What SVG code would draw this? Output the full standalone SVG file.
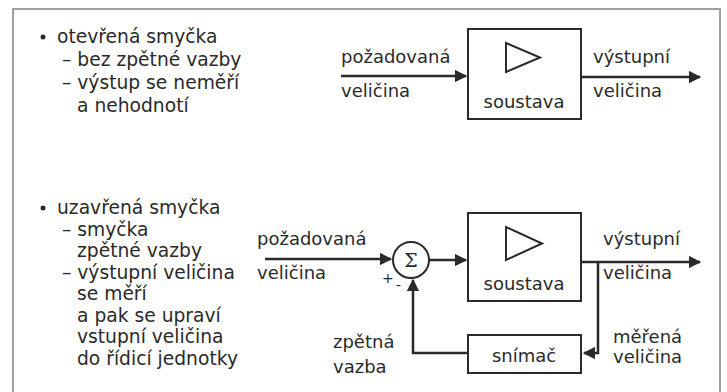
<svg xmlns="http://www.w3.org/2000/svg" width="727" height="392" viewBox="0 0 727 392">
<defs>
<style>
text{font-family:"DejaVu Sans","Liberation Sans",sans-serif;font-size:18px;fill:#2a2a2a}
.lt text{font-size:18.7px}
.mid{text-anchor:middle}
.box{fill:none;stroke:#2a2a2a;stroke-width:2}
.ln{fill:none;stroke:#2a2a2a;stroke-width:2.5}
.sm{font-size:14px}
</style>
<marker id="ah" viewBox="0 0 10 10" refX="9" refY="5" markerWidth="5" markerHeight="5" orient="auto" markerUnits="strokeWidth">
<path d="M0,0 L10,5 L0,10 z" fill="#2a2a2a"/>
</marker>
</defs>
<rect width="727" height="392" fill="#fff"/>
<path d="M13,392 L13,9 L720,9 L720,392" fill="none" stroke="#a0a0a0" stroke-width="2"/>

<g id="text-open" class="lt">
<circle cx="43" cy="37" r="2.5" fill="#2a2a2a"/>
<text x="57" y="43">otevřená smyčka</text>
<text x="62" y="66">– bez zpětné vazby</text>
<text x="62" y="89">– výstup se neměří</text>
<text x="77" y="112">a nehodnotí</text>
</g>

<g id="text-closed" class="lt">
<circle cx="43" cy="208" r="2.5" fill="#2a2a2a"/>
<text x="57" y="214">uzavřená smyčka</text>
<text x="62" y="236">– smyčka</text>
<text x="77" y="257">zpětné vazby</text>
<text x="62" y="279">– výstupní veličina</text>
<text x="77" y="300">se měří</text>
<text x="77" y="322">a pak se upraví</text>
<text x="77" y="343">vstupní veličina</text>
<text x="77" y="365">do řídicí jednotky</text>
</g>

<g id="soustava1">
<rect class="box" x="468" y="29" width="113" height="90"/>
<path class="box" d="M506,43 L506,72 L540,57.5 Z"/>
<text class="mid" x="524" y="108">soustava</text>
</g>

<g id="soustava2">
<rect class="box" x="468" y="213" width="113" height="88"/>
<path class="box" d="M506,227 L506,260 L542,243.5 Z"/>
<text class="mid" x="524" y="290">soustava</text>
</g>

<g id="sum">
<circle class="box" cx="411" cy="260" r="18"/>
<text class="mid" x="411" y="267" style="font-family:'DejaVu Serif',serif;font-size:19px">Σ</text>
<text class="sm" x="382" y="283">+</text>
<text class="sm" x="396" y="290">-</text>
</g>

<g id="snimac">
<rect class="box" x="468" y="335" width="113" height="38"/>
<text class="mid" x="524" y="362">snímač</text>
</g>

<g id="labels">
<text x="341" y="63">požadovaná</text>
<text x="341" y="97">veličina</text>
<text x="593" y="63">výstupní</text>
<text x="593" y="97">veličina</text>
<text x="257" y="245">požadovaná</text>
<text x="257" y="279">veličina</text>
<text x="603" y="245">výstupní</text>
<text x="603" y="279">veličina</text>
<text x="613" y="343">měřená</text>
<text x="613" y="363">veličina</text>
<text x="333" y="348">zpětná</text>
<text x="333" y="373">vazba</text>
</g>

<g id="connectors">
<line class="ln" x1="341" y1="76" x2="466" y2="76" marker-end="url(#ah)"/>
<line class="ln" x1="581" y1="77" x2="700" y2="77" marker-end="url(#ah)"/>
<line class="ln" x1="265" y1="259" x2="391" y2="259" marker-end="url(#ah)"/>
<line class="ln" x1="429" y1="260" x2="466" y2="260" marker-end="url(#ah)"/>
<line class="ln" x1="581" y1="262" x2="700" y2="262" marker-end="url(#ah)"/>
<path class="ln" d="M598,262 L598,353 L584,353" marker-end="url(#ah)"/>
<path class="ln" d="M468,353 L413,353 L413,280" marker-end="url(#ah)"/>
</g>
</svg>
